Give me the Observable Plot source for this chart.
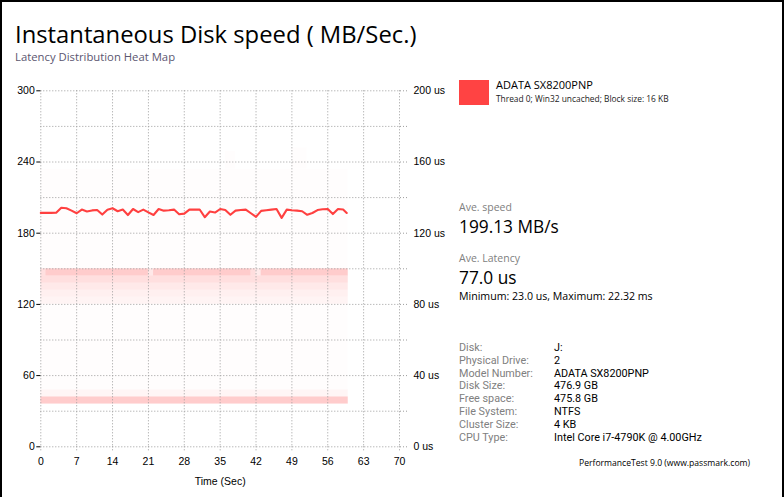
<!DOCTYPE html>
<html>
<head>
<meta charset="utf-8">
<script src="https://cdn.jsdelivr.net/npm/d3@7"></script>
<script src="https://cdn.jsdelivr.net/npm/@observablehq/plot@0.6"></script>
<style>
  body { margin: 0; background: #fff; }
  #page { position: relative; width: 784px; height: 497px; overflow: hidden; background: #fff; }
  .b { position: absolute; background: #000; }
  #chart { position: absolute; left: 0; top: 70px; }
  #overlay { position: absolute; left: 0; top: 0; pointer-events: none; }
</style>
</head>
<body>
<div id="page">
  <div id="chart"></div>
  <svg id="overlay" width="784" height="497"></svg>
  <div class="b" style="left:0;top:0;width:2px;height:497px"></div>
  <div class="b" style="left:782px;top:0;width:2px;height:497px"></div>
  <div class="b" style="left:0;top:0;width:784px;height:2px"></div>
</div>
<script>
// ---------- data ----------
const timeVals  = [0,1,2,3,4,5,6,7,8,9,10,11,12,13,14,15,16,17,18,19,20,21,22,23,24,25,26,27,28,29,30,31,32,33,34,35,36,37,38,39,40,41,42,43,44,45,46,47,48,49,50,51,52,53,54,55,56,57,58,59,59.7];
const speedVals = [197.1,197.1,197.1,197.3,201.5,201.0,199.0,196.8,199.9,198.3,199.2,199.5,195.7,199.8,201.0,198.5,199.9,195.3,200.4,197.8,199.9,197.5,195.3,200.4,199.0,199.3,199.9,196.0,196.5,199.9,199.9,200.0,193.5,198.3,197.4,200.4,199.5,195.5,199.0,199.5,199.9,196.8,193.8,198.8,199.4,199.9,200.4,192.9,199.9,199.3,199.0,198.5,195.5,197.0,199.5,200.2,200.4,196.1,200.4,200.0,197.1];

// latency heat map cells (time range in s, latency range in us, shade)
const heatT1    = [0,    0,    0,     0,   0,    0,     0,    0,    36,   49,   0,    1,   21,   22,  41,   42,   43];
const heatT2    = [60,   60,   60,    60,  60,   60,    60,   60,   38,   52,   1,    21,  22,   41,  42,   43,   60];
const heatLat1  = [32,   100,  28,    24,  80,   84,    88,   92,   156,  156,  96,   96,  96,   96,  96,   96,   96];
const heatLat2  = [80,   156,  32,    28,  84,   88,    92,   96,   166,  168,  100,  100, 100,  100, 100,  100,  100];
const heatShade = [0.009,0.008,0.04,  0.2, 0.045,0.06,  0.085,0.125,0.007,0.007,0.12, 0.2, 0.09, 0.2, 0.13, 0.08, 0.2];

const yTicks    = [0, 60, 120, 180, 240, 300];
const yGrid     = [0, 30, 60, 90, 120, 150, 180, 210, 240, 270, 300];
const xTicks    = [0, 7, 14, 21, 28, 35, 42, 49, 56, 63, 70];
const latLabels = ["0 us", "40 us", "80 us", "120 us", "160 us", "200 us"];
const latMax = 200, speedMax = 300;

const infoLabels = ["Disk:", "Physical Drive:", "Model Number:", "Disk Size:", "Free space:", "File System:", "Cluster Size:", "CPU Type:"];
const infoValues = ["J:", "2", "ADATA SX8200PNP", "476.9 GB", "475.8 GB", "NTFS", "4 KB", "Intel Core i7-4790K @ 4.00GHz"];

// ---------- chart ----------
const heat = heatT1.map((t1, i) => ({t1, t2: heatT2[i], l1: heatLat1[i], l2: heatLat2[i], a: heatShade[i]}));
const speed = timeVals.map((t, i) => ({t, v: speedVals[i]}));
const latToY = speedMax / latMax;
const gridColor = "#9c9c9c";

const chart = Plot.plot({
  width: 450,
  height: 427,
  marginLeft: 40.3,
  marginRight: 51,
  marginTop: 20.3,
  marginBottom: 50.7,
  x: {domain: [0, 70]},
  y: {domain: [0, speedMax]},
  style: {fontFamily: "'Liberation Sans', Arial, sans-serif", fontSize: "10.5px", color: "#000", background: "transparent"},
  marks: [
    Plot.rect(heat, {x1: "t1", x2: "t2", y1: d => d.l1 * latToY, y2: d => d.l2 * latToY, fill: "#ff0000", fillOpacity: "a"}),
    Plot.ruleY(yGrid, {stroke: gridColor, strokeDasharray: "1,2"}),
    Plot.ruleX(xTicks, {stroke: gridColor, strokeDasharray: "1,2"}),
    Plot.axisY(yTicks, {anchor: "left", tickSize: 4, tickPadding: 2, label: null}),
    Plot.axisY(yGrid, {anchor: "right", tickSize: 8, stroke: gridColor, strokeDasharray: "1,2", tickFormat: () => "", label: null}),
    Plot.axisY(yTicks, {anchor: "right", tickSize: 0, tickPadding: 14, tickFormat: d => latLabels[yTicks.indexOf(d)], label: null}),
    Plot.axisX(xTicks, {anchor: "bottom", tickSize: 5, stroke: gridColor, strokeDasharray: "1,2", tickPadding: 6, label: null}),
    Plot.axisX({anchor: "bottom", ticks: [], label: "Time (Sec)", labelAnchor: "center", labelOffset: 38, labelArrow: "none", dx: 5}),
    Plot.line(speed, {x: "t", y: "v", stroke: "#ff4040", strokeWidth: 2.1})
  ]
});
document.getElementById("chart").appendChild(chart);

// ---------- title and side panel ----------
const ov = d3.select("#overlay");
const font = "'Open Sans', 'Noto Sans', sans-serif";
const tableFont = "Roboto, 'Open Sans', sans-serif";
function txt(x, y, s, size, fill, fam) {
  return ov.append("text").attr("x", x).attr("y", y).attr("font-family", fam || font)
    .attr("font-size", size).attr("fill", fill || "#000").text(s);
}
txt(15, 42.5, "Instantaneous Disk speed ( MB/Sec.)", 23.8);
txt(15, 61, "Latency Distribution Heat Map", 11.3, "#5b5670");

ov.append("rect").attr("x", 459).attr("y", 80).attr("width", 30).attr("height", 25).attr("fill", "#ff4343");
txt(496, 89, "ADATA SX8200PNP", 11);
txt(496, 102, "Thread 0; Win32 uncached; Block size: 16 KB", 8.4, "#222");

txt(459, 211, "Ave. speed", 10.5, "#808080");
txt(459, 233, "199.13 MB/s", 17.3);
txt(459, 262, "Ave. Latency", 10.5, "#808080");
txt(459, 283.5, "77.0 us", 17.3);
txt(459, 299.5, "Minimum: 23.0 us, Maximum: 22.32 ms", 10.6);

infoLabels.forEach((l, i) => {
  const y = 350.7 + i * 12.9;
  txt(459, y, l, 10.8, "#808080", tableFont);
  txt(554, y, infoValues[i], 10.8, "#000", tableFont);
});
txt(579, 466, "PerformanceTest 9.0 (www.passmark.com)", 8.6, "#000");
</script>
</body>
</html>
